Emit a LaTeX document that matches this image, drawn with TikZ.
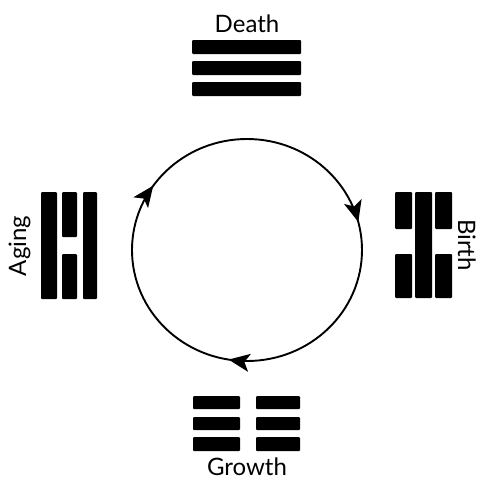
\documentclass[tikz,border=0pt]{standalone}
\usepackage{fontspec}
\setmainfont{Lato}
\usetikzlibrary{arrows.meta,decorations.markings}
\begin{document}
\begin{tikzpicture}[x=1pt,y=-1pt,
  lbl/.style={font=\fontsize{24}{28}\selectfont, inner sep=0pt},
  bar/.style={fill=black, rounded corners=1pt},
  cyctip/.tip={Stealth[length=21pt,width=18pt,inset=5pt]},
  cyc/.style={line width=1.9pt, postaction={decorate},
    decoration={markings,
      mark=at position 0.276 with {\arrow{cyctip}},
      mark=at position 0.597 with {\arrow{cyctip}},
      mark=at position 0.960 with {\arrow{cyctip}}}}]
\useasboundingbox (0,0) rectangle (484,482);
% cycle
\coordinate (c) at (247,250);
\draw[cyc] (c) ellipse [x radius=115, y radius=111];
% Death (top)
\node[lbl, anchor=base] (death) at (247,32) {Death};
\fill[bar] (192,40) rectangle (301,54);
\fill[bar] (192,61) rectangle (301,75);
\fill[bar] (192,82) rectangle (301,96);
% Birth (right)
\node[lbl, anchor=base, rotate=-90] (birth) at (458,245) {Birth};
\fill[bar] (395,192) rectangle (412,229);
\fill[bar] (395,254) rectangle (412,298);
\fill[bar] (415,192) rectangle (432,298);
\fill[bar] (435,192) rectangle (452,229);
\fill[bar] (435,254) rectangle (452,298);
% Growth (bottom)
\node[lbl, anchor=base] (growth) at (247,475) {Growth};
\fill[bar] (193,396) rectangle (240,409);
\fill[bar] (193,417) rectangle (240,430);
\fill[bar] (193,437) rectangle (240,451);
\fill[bar] (256,396) rectangle (300,409);
\fill[bar] (256,417) rectangle (300,430);
\fill[bar] (256,437) rectangle (300,451);
% Aging (left)
\node[lbl, anchor=base, rotate=90] (aging) at (26,246) {Aging};
\fill[bar] (41,192) rectangle (57,299);
\fill[bar] (62,192) rectangle (77,237);
\fill[bar] (62,254) rectangle (77,299);
\fill[bar] (83,192) rectangle (97,299);
\end{tikzpicture}
\end{document}
